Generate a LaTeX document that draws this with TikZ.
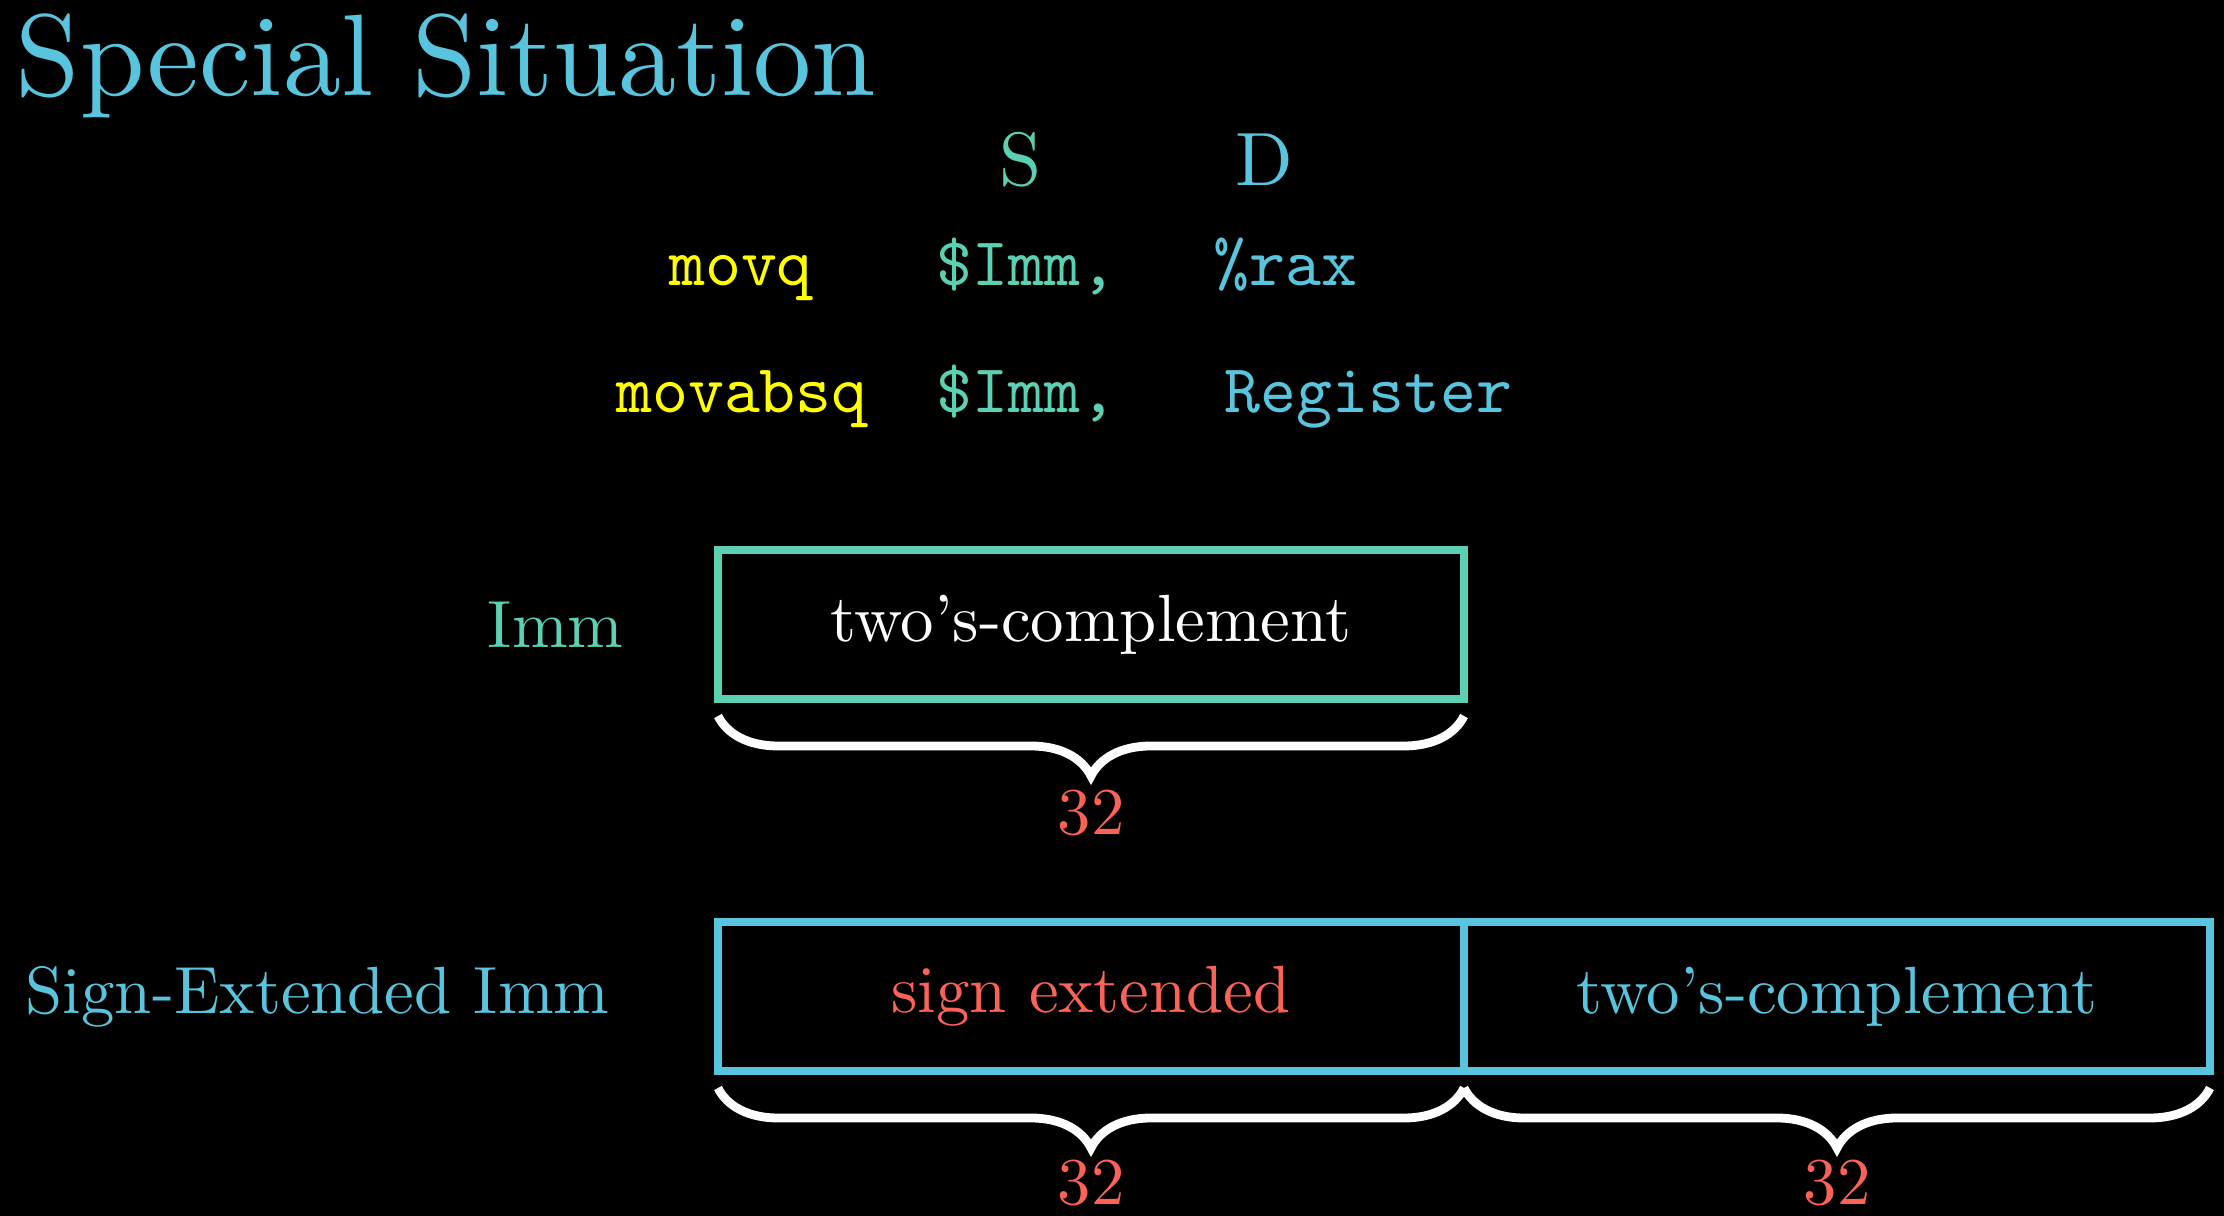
\documentclass[tikz,border=0pt]{standalone}
\usepackage{fontspec}
\setmainfont{lmroman10-regular.otf}
\setmonofont{lmmono10-regular.otf}
\usetikzlibrary{positioning, decorations.pathreplacing}
\definecolor{mblue}{HTML}{58C4DD}
\definecolor{mteal}{HTML}{5CD0B3}
\definecolor{myellow}{HTML}{FFFF00}
\definecolor{mred}{HTML}{FC6255}

\begin{document}
\begin{tikzpicture}[
    bitbox/.style={rectangle, draw=#1, line width=2pt, minimum width=7.46cm, minimum height=1.49cm, inner sep=0pt, outer sep=0pt, font=\fontsize{19}{23}\selectfont},
    lbl/.style={inner sep=0pt, font=\fontsize{19}{23}\selectfont},
    code/.style={inner sep=0pt, anchor=base west, font=\ttfamily\fontsize{19.5}{23}\selectfont},
    bits/.style={inner sep=0pt, text=mred, font=\fontsize{19}{23}\selectfont},
    bracket/.style={decorate, decoration={brace, amplitude=0.6cm, raise=0.17cm}, line width=2.5pt, draw=white}
]
\fill[black] (0,0) rectangle (22.24,-12.16);
\useasboundingbox (0,0) rectangle (22.24,-12.16);
\node[lbl, anchor=base west, text=mblue, font=\fontsize{33}{40}\selectfont] (title) at (0.15,-0.96) {Special Situation};
\node[lbl, anchor=base, text=mteal, font=\fontsize{21.5}{26}\selectfont] (src) at (10.21,-1.86) {S};
\node[lbl, anchor=base, text=mblue, font=\fontsize{21.5}{26}\selectfont] (dst) at (12.64,-1.86) {D};
\node[code, anchor=base, text=myellow] (movq) at (7.41,-2.86) {movq};
\node[code, text=mteal] (immq) at (9.36,-2.86) {\$Imm,};
\node[code, text=mblue] (rax) at (12.13,-2.86) {\%rax};
\node[code, anchor=base, text=myellow] (movabsq) at (7.42,-4.13) {movabsq};
\node[code, text=mteal] (immabs) at (9.36,-4.13) {\$Imm,};
\node[code, text=mblue] (reg) at (12.24,-4.13) {Register};
\node[bitbox=mteal, text=white] (immbox) at (10.91,-6.245) {two's-complement};
\node[lbl, text=mteal, left=0.94cm of immbox] (immlbl) {Imm};
\draw[bracket] (immbox.south east) -- (immbox.south west);
\node[bits, below=0.9cm of immbox] (immbits) {32};
\node[bitbox=mblue, text=mred] (sgnbox) at (10.91,-9.965) {sign extended};
\node[bitbox=mblue, text=mblue, right=0pt of sgnbox] (cmpbox) {two's-complement};
\node[lbl, text=mblue, left=1.08cm of sgnbox] (extlbl) {Sign-Extended Imm};
\draw[bracket] (sgnbox.south east) -- (sgnbox.south west);
\draw[bracket] (cmpbox.south east) -- (cmpbox.south west);
\node[bits, below=0.88cm of sgnbox] (sgnbits) {32};
\node[bits, below=0.88cm of cmpbox] (cmpbits) {32};
\end{tikzpicture}
\end{document}
